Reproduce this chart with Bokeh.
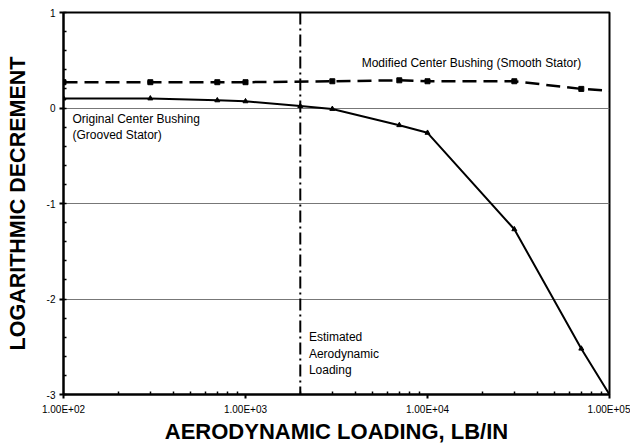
from bokeh.plotting import figure
from bokeh.models import Span, Label, CustomJSTickFormatter, FixedTicker
from bokeh.embed import file_html
from bokeh.resources import INLINE

# Data
load_mod = [100, 300, 700, 1000, 3000, 7000, 10000, 30000, 70000, 100000]
dec_mod = [0.27, 0.27, 0.27, 0.27, 0.28, 0.29, 0.28, 0.28, 0.20, 0.18]
mod_marker_load = [100, 300, 700, 1000, 3000, 7000, 10000, 30000, 70000]
mod_marker_dec = [0.27, 0.27, 0.27, 0.27, 0.28, 0.29, 0.28, 0.28, 0.20]

load_orig = [100, 300, 700, 1000, 2000, 3000, 7000, 10000, 30000, 70000, 100000]
dec_orig = [0.10, 0.10, 0.08, 0.07, 0.02, -0.01, -0.18, -0.26, -1.27, -2.52, -3.0]

est_load = 2000
y_ticks = [-3, -2, -1, 0, 1]
x_ticks = [100, 1000, 10000, 100000]

FONT = "Liberation Sans"

p = figure(width=630, height=446, x_axis_type="log", x_range=(100, 100000), y_range=(-3, 1),
           output_backend="svg", toolbar_location=None,
           min_border_left=63, min_border_right=21, min_border_top=12, min_border_bottom=51)
p.background_fill_color = "white"
p.border_fill_color = "white"
p.outline_line_color = "black"
p.outline_line_width = 2

# axes
p.xaxis.ticker = FixedTicker(ticks=x_ticks,
                             minor_ticks=[m * d for d in [100, 1000, 10000] for m in range(2, 10)])
p.xaxis.formatter = CustomJSTickFormatter(code="""
const e = Math.round(Math.log10(tick));
return '1.00E+' + (e < 10 ? '0' : '') + e;
""")
p.yaxis.ticker = FixedTicker(ticks=y_ticks, minor_ticks=[-3 + 0.2 * i for i in range(21)])
p.yaxis.formatter = CustomJSTickFormatter(code="return String(Math.round(tick));")

for ax in (p.xaxis, p.yaxis):
    ax.axis_line_width = 2
    ax.axis_line_color = "black"
    ax.major_tick_out = 4
    ax.major_tick_in = 0
    ax.major_tick_line_width = 2
    ax.minor_tick_in = 3
    ax.minor_tick_out = 0
    ax.minor_tick_line_width = 1.5
    ax.major_label_text_font = FONT
    ax.major_label_text_font_size = "10px"
    ax.major_label_text_color = "black"
    ax.axis_label_text_font = FONT
    ax.axis_label_text_font_style = "bold"
    ax.axis_label_text_color = "black"

p.xaxis.axis_label = "AERODYNAMIC LOADING, LB/IN"
p.yaxis.axis_label = "LOGARITHMIC DECREMENT"
p.xaxis.axis_label_text_font_size = "22px"
p.yaxis.axis_label_text_font_size = "21.5px"
p.xaxis.major_label_standoff = 5
p.xaxis.axis_label_standoff = 1
p.yaxis.major_label_standoff = 4
p.yaxis.axis_label_standoff = 14

p.xgrid.grid_line_color = None
p.ygrid.ticker = FixedTicker(ticks=[-2, -1, 0])
p.ygrid.grid_line_color = "#777777"
p.ygrid.grid_line_width = 1

# estimated loading line
p.add_layout(Span(location=est_load, dimension="height", line_color="black",
                  line_width=2, line_dash="12 4 2 4"))

# Modified (smooth stator) - dashed with squares
p.line(load_mod, dec_mod, line_color="black", line_width=2.5, line_dash="14 7")
p.scatter(mod_marker_load, mod_marker_dec, marker="square", size=5, color="black")

# Original (grooved stator) - solid with triangles
p.line(load_orig, dec_orig, line_color="black", line_width=2)
p.scatter(load_orig[:-1], dec_orig[:-1], marker="triangle", size=5, color="black")

def lab(x, y, t):
    p.add_layout(Label(x=x, y=y, text=t, text_font=FONT, text_font_size="12px",
                       text_color="black", text_baseline="middle", text_align="left"))

lab(4350, 0.47, "Modified Center Bushing (Smooth Stator)")
lab(112, -0.115, "Original Center Bushing")
lab(112, -0.28, "(Grooved Stator)")
lab(2230, -2.40, "Estimated")
lab(2230, -2.58, "Aerodynamic")
lab(2230, -2.74, "Loading")

open("out.html", "w").write(file_html(p, INLINE))
